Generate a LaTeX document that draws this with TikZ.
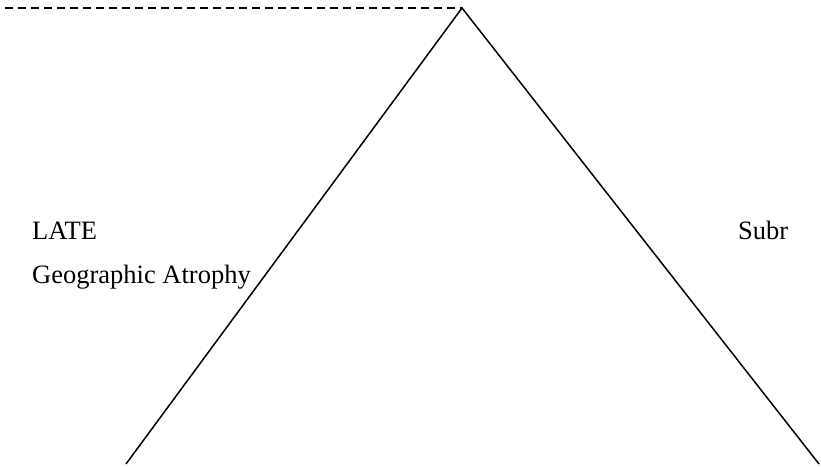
\documentclass[tikz,border=0pt]{standalone}
\usepackage{fontspec}
\setmainfont{Liberation Serif}
\begin{document}
\begin{tikzpicture}[x=1pt,y=-1pt,
  edge/.style={line width=1.5pt,black},
  dashedge/.style={line width=1.5pt,black,dash pattern=on 8pt off 5pt},
  lbl/.style={inner sep=0pt,anchor=base west,font=\fontsize{26.5}{32}\selectfont}]
\useasboundingbox (0,0) rectangle (821,466);
\coordinate (start) at (5,8);
\coordinate (apex) at (462,8);
\coordinate (lend) at (126,464);
\coordinate (rend) at (819,464);
\draw[dashedge] (start) -- (apex);
\draw[edge] (lend) -- (apex) -- (rend);
\node[lbl] (late) at (32,239) {LATE};
\node[lbl] (ga) at (32,283) {Geographic Atrophy};
\node[lbl] (subr) at (738,239) {Subr};
\end{tikzpicture}
\end{document}
